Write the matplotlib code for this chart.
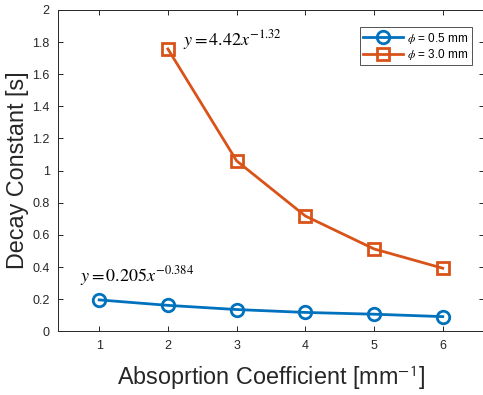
import matplotlib
matplotlib.use("Agg")
import matplotlib.pyplot as plt

# data
absorption = [1, 2, 3, 4, 5, 6]
tau_small = [0.196, 0.162, 0.136, 0.118, 0.107, 0.092]
absorption_big = [2, 3, 4, 5, 6]
tau_big = [1.757, 1.061, 0.718, 0.513, 0.393]
yticks = [0, 0.2, 0.4, 0.6, 0.8, 1, 1.2, 1.4, 1.6, 1.8, 2]
ytick_labels = ['0', '0.2', '0.4', '0.6', '0.8', '1', '1.2', '1.4', '1.6', '1.8', '2']

plt.rcParams['font.family'] = ['Liberation Sans', 'DejaVu Sans']
plt.rcParams['mathtext.fontset'] = 'stix'

fig = plt.figure(figsize=(4.83, 3.95), dpi=100)
ax = fig.add_axes([0.120, 0.161, 0.882, 0.814])

ax.plot(absorption, tau_small, color='#0072BD', lw=2, marker='o', ms=9,
        mfc='none', mew=2, label=r'$\phi$ = 0.5 mm')
ax.plot(absorption_big, tau_big, color='#D95319', lw=2, marker='s', ms=8,
        mfc='none', mew=2, label=r'$\phi$ = 3.0 mm')

ax.text(2.22, 1.78, r'$y = 4.42x^{-1.32}$', fontsize=13, va='baseline')
ax.text(0.72, 0.31, r'$y = 0.205x^{-0.384}$', fontsize=13, va='baseline')

ax.set_xlim(0.4, 6.6)
ax.set_ylim(0, 2)
ax.set_xticks(absorption)
ax.set_yticks(yticks)
ax.set_yticklabels(ytick_labels)
ax.tick_params(direction='in', length=3.5, width=0.7, labelsize=9,
               colors='#262626', top=True, right=True, pad=6)
for s in ax.spines.values():
    s.set_color('#262626')
    s.set_linewidth(0.7)

ax.set_xlabel('Absoprtion Coefficient [mm$^{\\mathsf{-1}}$]', fontsize=16.8,
              color='#262626', labelpad=8)
ax.set_ylabel('Decay Constant [s]', fontsize=16.8, color='#262626', labelpad=2)

leg = ax.legend(loc='upper right', fontsize=8.5, fancybox=False,
                edgecolor='#262626', handlelength=3.4, borderpad=0.3,
                labelspacing=0.1, handletextpad=0.3,
                bbox_to_anchor=(0.985, 0.965))
leg.get_frame().set_linewidth(0.7)

fig.savefig('out.png', dpi=100)
